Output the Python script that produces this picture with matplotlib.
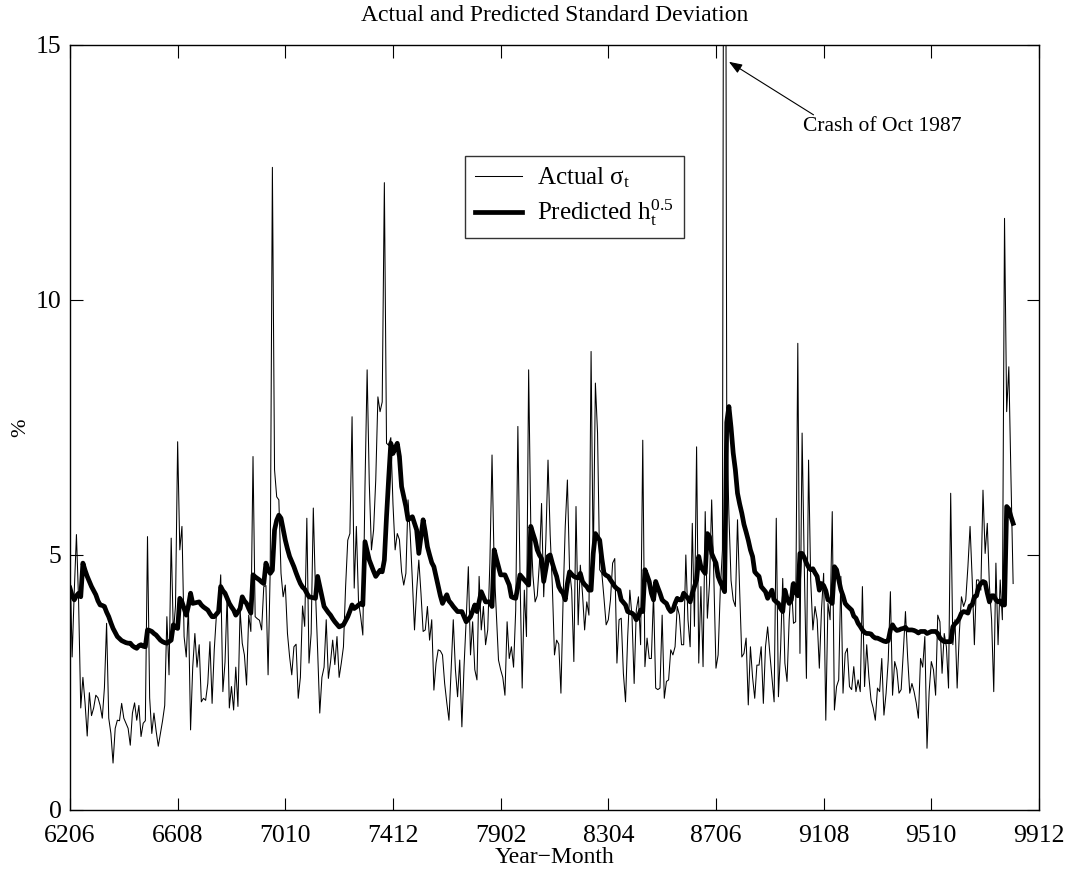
import numpy as np
import matplotlib
matplotlib.use("Agg")
import matplotlib.pyplot as plt

plt.rcParams['font.family'] = ['Liberation Serif', 'DejaVu Serif']
plt.rcParams['mathtext.fontset'] = 'custom'
plt.rcParams['mathtext.rm'] = 'Liberation Serif'
plt.rcParams['mathtext.it'] = 'Liberation Serif'
plt.rcParams['mathtext.default'] = 'regular'

title = "Actual and Predicted Standard Deviation"
xlabel = "Year\u2212Month"
ylabel = "%"
tick_labels = ["6206", "6608", "7010", "7412", "7902", "8304", "8706", "9108", "9510", "9912"]
tick_months = [0, 50, 100, 150, 200, 250, 300, 350, 400, 450]
annotation_text = "Crash of Oct 1987"
annot_point = (306, 14.67)
annot_tail = (345.3, 13.63)
annot_text_pos = (340.5, 13.4)

# Actual monthly standard deviation (%), Jun 1962 - Dec 1998
actual = [
    4.9, 3.0, 4.3, 5.4, 4.1, 2.0, 2.6, 2.1, 1.45, 2.3,
    1.85, 2.0, 2.25, 2.2, 2.05, 1.8, 2.4, 3.66, 1.8, 1.5,
    0.92, 1.6, 1.76, 1.75, 2.09, 1.8, 1.7, 1.6, 1.27, 1.9,
    2.1, 1.76, 2.05, 1.44, 1.7, 1.75, 5.36, 2.2, 1.5, 1.9,
    1.55, 1.25, 1.5, 1.75, 2.05, 3.79, 2.65, 5.33, 3.46, 4.0,
    7.22, 5.1, 5.56, 3.4, 3.0, 4.0, 1.57, 2.8, 3.46, 2.8,
    3.24, 2.12, 2.19, 2.15, 2.48, 3.3, 2.09, 3.14, 3.82, 3.9,
    4.61, 2.32, 2.9, 4.2, 2.0, 2.42, 1.96, 2.8, 2.03, 3.92,
    3.27, 3.04, 2.45, 3.82, 3.5, 6.93, 3.79, 3.75, 3.72, 3.53,
    4.38, 4.4, 2.65, 4.74, 12.6, 6.67, 6.14, 6.08, 4.64, 4.18,
    4.41, 3.46, 3.0, 2.65, 3.2, 3.25, 2.19, 2.6, 4.0, 3.6,
    5.72, 2.88, 3.46, 5.92, 4.3, 3.14, 1.9, 2.6, 2.8, 3.73,
    2.58, 2.9, 3.33, 2.85, 3.4, 2.6, 2.88, 3.2, 4.38, 5.29,
    5.42, 7.71, 4.35, 5.56, 4.08, 3.79, 3.43, 6.34, 8.63, 6.4,
    5.1, 5.49, 6.47, 8.1, 7.81, 8.0, 12.3, 7.19, 7.15, 7.3,
    6.0, 5.1, 5.42, 5.3, 4.67, 4.41, 4.64, 6.08, 5.42, 4.5,
    3.53, 4.31, 4.9, 4.25, 3.5, 3.53, 3.99, 3.33, 3.73, 2.35,
    2.88, 3.14, 3.12, 3.04, 2.48, 2.1, 1.76, 2.75, 3.73, 2.75,
    2.22, 2.94, 1.63, 2.81, 3.73, 4.77, 3.04, 3.69, 2.75, 2.55,
    4.58, 3.53, 3.99, 3.24, 3.53, 4.84, 6.96, 4.77, 3.86, 2.94,
    2.75, 2.6, 2.25, 3.69, 2.97, 3.2, 2.8, 3.92, 7.52, 4.58,
    2.39, 4.31, 3.4, 8.63, 5.56, 4.6, 4.08, 4.2, 4.84, 6.01,
    4.18, 5.29, 6.86, 5.4, 4.4, 3.04, 3.33, 3.25, 2.29, 4.12,
    5.56, 6.47, 4.71, 4.3, 2.91, 5.95, 3.63, 4.8, 4.25, 3.53,
    4.08, 3.82, 8.99, 4.77, 8.37, 7.39, 4.71, 4.64, 4.15, 3.63,
    3.73, 4.12, 4.84, 4.93, 2.88, 3.73, 3.76, 2.68, 2.12, 3.4,
    4.31, 3.79, 2.48, 3.92, 4.18, 3.24, 7.25, 2.81, 3.37, 2.97,
    2.97, 4.25, 2.39, 2.36, 2.39, 3.82, 2.19, 2.52, 2.55, 3.14,
    3.04, 3.2, 3.99, 3.82, 3.24, 3.24, 5.0, 3.73, 3.2, 5.62,
    3.6, 7.12, 2.88, 4.38, 2.81, 5.85, 3.76, 4.44, 6.08, 4.58,
    2.78, 3.04, 4.31, 5.1, 30.0, 7.6, 5.8, 4.5, 4.12, 3.99,
    5.69, 4.3, 3.0, 3.07, 3.37, 2.06, 3.2, 2.6, 2.19, 2.84,
    2.84, 3.2, 2.09, 3.2, 3.59, 3.07, 2.6, 2.12, 5.72, 2.22,
    3.14, 4.54, 2.88, 2.52, 3.73, 4.44, 3.66, 3.69, 9.15, 3.07,
    7.39, 4.8, 2.58, 6.86, 4.5, 3.53, 3.99, 3.73, 2.78, 3.92,
    4.64, 1.76, 4.05, 3.73, 5.85, 1.96, 2.42, 2.55, 4.58, 2.29,
    3.07, 3.17, 2.42, 2.36, 2.81, 2.32, 2.55, 2.32, 4.38, 2.42,
    3.24, 2.61, 2.16, 2.0, 1.76, 2.39, 2.32, 2.97, 1.86, 2.29,
    2.94, 4.28, 2.25, 2.91, 2.75, 2.29, 2.36, 3.1, 3.89, 3.0,
    2.29, 2.48, 2.32, 2.1, 1.8, 2.97, 2.8, 3.4, 1.21, 2.32,
    2.91, 2.75, 2.25, 3.82, 3.69, 2.68, 3.46, 3.2, 2.39, 6.21,
    3.24, 3.73, 2.39, 3.46, 4.18, 3.99, 4.12, 4.77, 5.56, 4.51,
    3.24, 4.51, 4.51, 4.31, 6.27, 5.03, 5.62, 4.38, 3.73, 2.32,
    4.84, 3.24, 4.51, 3.73, 11.6, 7.81, 8.69, 6.5, 4.44,
]

# Predicted standard deviation h_t^0.5 (%)
predicted = [
    4.35, 4.2, 4.12, 4.2, 4.25, 4.18, 4.84, 4.7, 4.58, 4.48,
    4.38, 4.3, 4.22, 4.1, 4.02, 4.01, 3.99, 3.88, 3.79, 3.67,
    3.56, 3.48, 3.40, 3.36, 3.32, 3.30, 3.28, 3.27, 3.27, 3.22,
    3.19, 3.17, 3.22, 3.24, 3.21, 3.20, 3.53, 3.52, 3.50, 3.46,
    3.43, 3.38, 3.33, 3.30, 3.28, 3.27, 3.30, 3.33, 3.63, 3.58,
    3.56, 4.15, 4.08, 3.95, 3.82, 4.0, 4.25, 4.05, 4.06, 4.07,
    4.08, 4.02, 3.98, 3.95, 3.92, 3.85, 3.79, 3.79, 3.84, 3.89,
    4.38, 4.3, 4.25, 4.15, 4.05, 3.98, 3.92, 3.82, 3.88, 3.95,
    4.18, 4.1, 4.05, 3.95, 3.86, 4.61, 4.57, 4.54, 4.51, 4.47,
    4.44, 4.84, 4.72, 4.64, 4.7, 5.49, 5.68, 5.78, 5.72, 5.5,
    5.29, 5.12, 4.97, 4.87, 4.77, 4.65, 4.54, 4.44, 4.37, 4.33,
    4.25, 4.18, 4.17, 4.16, 4.15, 4.58, 4.38, 4.18, 3.99, 3.93,
    3.87, 3.82, 3.75, 3.69, 3.64, 3.59, 3.61, 3.63, 3.71, 3.79,
    3.9, 4.02, 3.95, 3.98, 4.02, 4.05, 4.02, 5.26, 5.08, 4.9,
    4.79, 4.68, 4.58, 4.64, 4.7, 4.67, 4.9, 5.75, 6.5, 7.19,
    6.99, 7.1, 7.19, 6.93, 6.34, 6.15, 5.95, 5.69, 5.72, 5.75,
    5.62, 5.49, 5.03, 5.36, 5.69, 5.45, 5.16, 5.0, 4.85, 4.77,
    4.58, 4.38, 4.2, 4.05, 4.14, 4.22, 4.1, 4.05, 3.99, 3.94,
    3.89, 3.89, 3.89, 3.79, 3.69, 3.74, 3.79, 3.9, 4.02, 3.89,
    4.08, 4.28, 4.18, 4.08, 4.08, 4.08, 3.99, 5.1, 4.93, 4.77,
    4.61, 4.61, 4.61, 4.51, 4.41, 4.18, 4.16, 4.15, 4.38, 4.61,
    4.56, 4.51, 4.46, 4.41, 5.56, 5.42, 5.29, 5.1, 5.0, 4.93,
    4.48, 4.72, 4.97, 5.0, 4.84, 4.7, 4.58, 4.38, 4.3, 4.25,
    4.12, 4.44, 4.67, 4.62, 4.58, 4.56, 4.55, 4.64, 4.48, 4.42,
    4.38, 4.31, 4.31, 5.03, 5.42, 5.35, 5.29, 4.93, 4.64, 4.6,
    4.58, 4.51, 4.45, 4.38, 4.34, 4.31, 4.12, 4.07, 4.02, 3.89,
    3.87, 3.86, 3.82, 3.73, 3.8, 3.92, 3.89, 4.71, 4.6, 4.48,
    4.25, 4.12, 4.48, 4.36, 4.25, 4.12, 4.08, 4.05, 3.95, 3.89,
    3.92, 4.05, 4.15, 4.12, 4.12, 4.25, 4.2, 4.15, 4.08, 4.25,
    4.38, 4.51, 4.97, 4.77, 4.7, 4.64, 5.42, 5.36, 5.03, 4.93,
    4.84, 4.58, 4.47, 4.38, 4.28, 7.6, 7.91, 7.5, 7.0, 6.67,
    6.21, 6.0, 5.82, 5.6, 5.45, 5.29, 5.1, 4.97, 4.67, 4.62,
    4.58, 4.38, 4.33, 4.28, 4.15, 4.23, 4.31, 4.12, 4.08, 4.05,
    3.95, 3.89, 4.31, 4.15, 4.05, 4.12, 4.44, 4.28, 4.2, 5.03,
    5.03, 4.95, 4.84, 4.76, 4.71, 4.73, 4.65, 4.58, 4.31, 4.44,
    4.4, 4.3, 4.12, 4.1, 4.05, 4.77, 4.71, 4.51, 4.32, 4.2,
    4.05, 4.0, 3.96, 3.92, 3.8, 3.76, 3.66, 3.6, 3.53, 3.48,
    3.46, 3.46, 3.45, 3.4, 3.37, 3.37, 3.35, 3.33, 3.31, 3.3,
    3.32, 3.53, 3.63, 3.56, 3.52, 3.53, 3.55, 3.56, 3.58, 3.53,
    3.53, 3.53, 3.52, 3.5, 3.47, 3.5, 3.5, 3.5, 3.46, 3.48,
    3.5, 3.5, 3.5, 3.46, 3.37, 3.33, 3.3, 3.3, 3.3, 3.3,
    3.59, 3.65, 3.69, 3.76, 3.86, 3.89, 3.88, 3.86, 4.0, 4.02,
    4.18, 4.2, 4.38, 4.44, 4.48, 4.46, 4.25, 4.08, 4.2, 4.2,
    4.12, 4.08, 4.1, 4.02, 4.02, 5.95, 5.9, 5.75, 5.62,
]

months = np.arange(len(actual))

fig = plt.figure(figsize=(10.70, 8.73), dpi=100)
ax = fig.add_axes([0.0654, 0.0722, 0.9056, 0.8763])

ax.plot(months, actual, color='black', lw=0.75, label=r'Actual $\sigma_t$')
ax.plot(months, predicted, color='black', lw=3.4, label=r'Predicted $h_t^{0.5}$',
        solid_joinstyle='round')

ax.set_xlim(0, 450)
ax.set_ylim(0, 15)
ax.set_xticks(tick_months)
ax.set_xticklabels(tick_labels)
ax.set_yticks([0, 5, 10, 15])
ax.tick_params(direction='in', length=9, width=0.8, top=True, right=True,
               labelsize=18.5)
ax.tick_params(axis='x', pad=11)
ax.tick_params(axis='y', pad=6)
for s in ax.spines.values():
    s.set_linewidth(1.0)

ax.set_title(title, fontsize=17, pad=17)
ax.set_xlabel(xlabel, fontsize=17, labelpad=0)
ax.set_ylabel(ylabel, fontsize=16, labelpad=4)

ax.annotate('', xy=annot_point, xytext=annot_tail,
            arrowprops=dict(arrowstyle='-|>,head_length=0.8,head_width=0.3',
                            lw=0.8, color='black', shrinkA=0, shrinkB=0))
ax.text(annot_text_pos[0], annot_text_pos[1], annotation_text, fontsize=15.5,
        ha='left', va='center')

leg = ax.legend(loc='upper left', bbox_to_anchor=(0.4076, 0.855), borderaxespad=0,
                fontsize=18, frameon=True, fancybox=False, handlelength=1.9,
                labelspacing=0.3, borderpad=0.4, handletextpad=0.6)
leg.get_frame().set_edgecolor('black')
leg.get_frame().set_linewidth(1.0)

fig.savefig('out.png', dpi=100)
